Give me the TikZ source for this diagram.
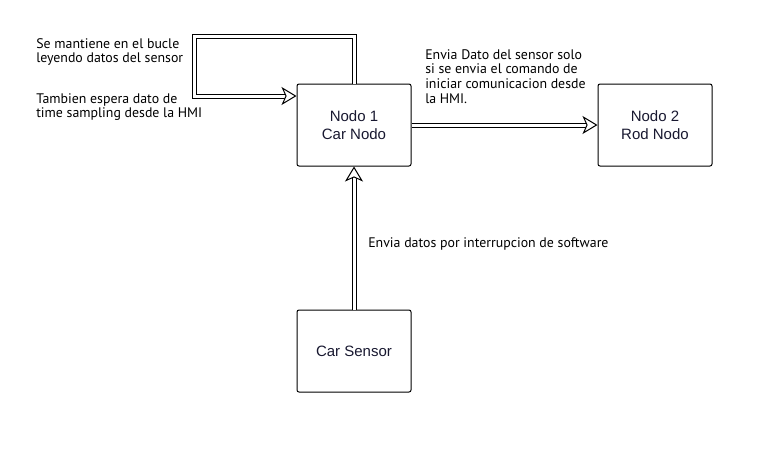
\documentclass[tikz,border=0pt]{standalone}
\usepackage{fontspec}
\setmainfont{Liberation Sans}
\newfontfamily\notefont{PT Sans}
\usetikzlibrary{arrows.meta}
\definecolor{mynavy}{RGB}{24,24,48}

\begin{document}
\begin{tikzpicture}[x=0.75pt, y=-0.75pt,
	box/.style={draw, line width=0.75pt, rounded corners=1.5pt, minimum width=85.5pt, minimum height=61.5pt, align=center, text=mynavy, font=\fontsize{11.25}{13.5}\selectfont},
	dbl/.style={double, double distance=2.25pt, line width=0.75pt, -{Stealth[fill=white, line width=0.75pt, length=11.25pt, width=13.5pt, inset=3pt]}},
	note/.style={anchor=base west, align=left, inner sep=0pt, font=\notefont\fontsize{10.4}{10.2}\selectfont}]
	\useasboundingbox (0,0) rectangle (758,472);

	\node[box] (nodo1) at (354,125) {Nodo 1\\Car Nodo};
	\node[box] (nodo2) at (655,125) {Nodo 2\\Rod Nodo};
	\node[box] (sensor) at (354,351) {Car Sensor};

	% bucle de lectura
	\coordinate (loopcorner) at (194,36);
	\draw[dbl] (nodo1.north) |- (loopcorner) |- ([yshift=21.75pt]nodo1.west);
	\draw[dbl] (nodo1.east) -- (nodo2.west);
	\draw[dbl] (sensor.north) -- (nodo1.south);

	\node[note] (bucle) at (36,62) {Se mantiene en el bucle\\leyendo datos del sensor};
	\node[note] (espera) at (36,117.5) {Tambien espera dato de\\time sampling desde la HMI};
	\node[note, font=\notefont\fontsize{10.4}{10.9}\selectfont] (envia) at (425,103) {Envia Dato del sensor solo\\si se envia el comando de\\iniciar comunicacion desde\\la HMI.};
	\node[note] (interr) at (368,247) {Envia datos por interrupcion de software};
\end{tikzpicture}
\end{document}
